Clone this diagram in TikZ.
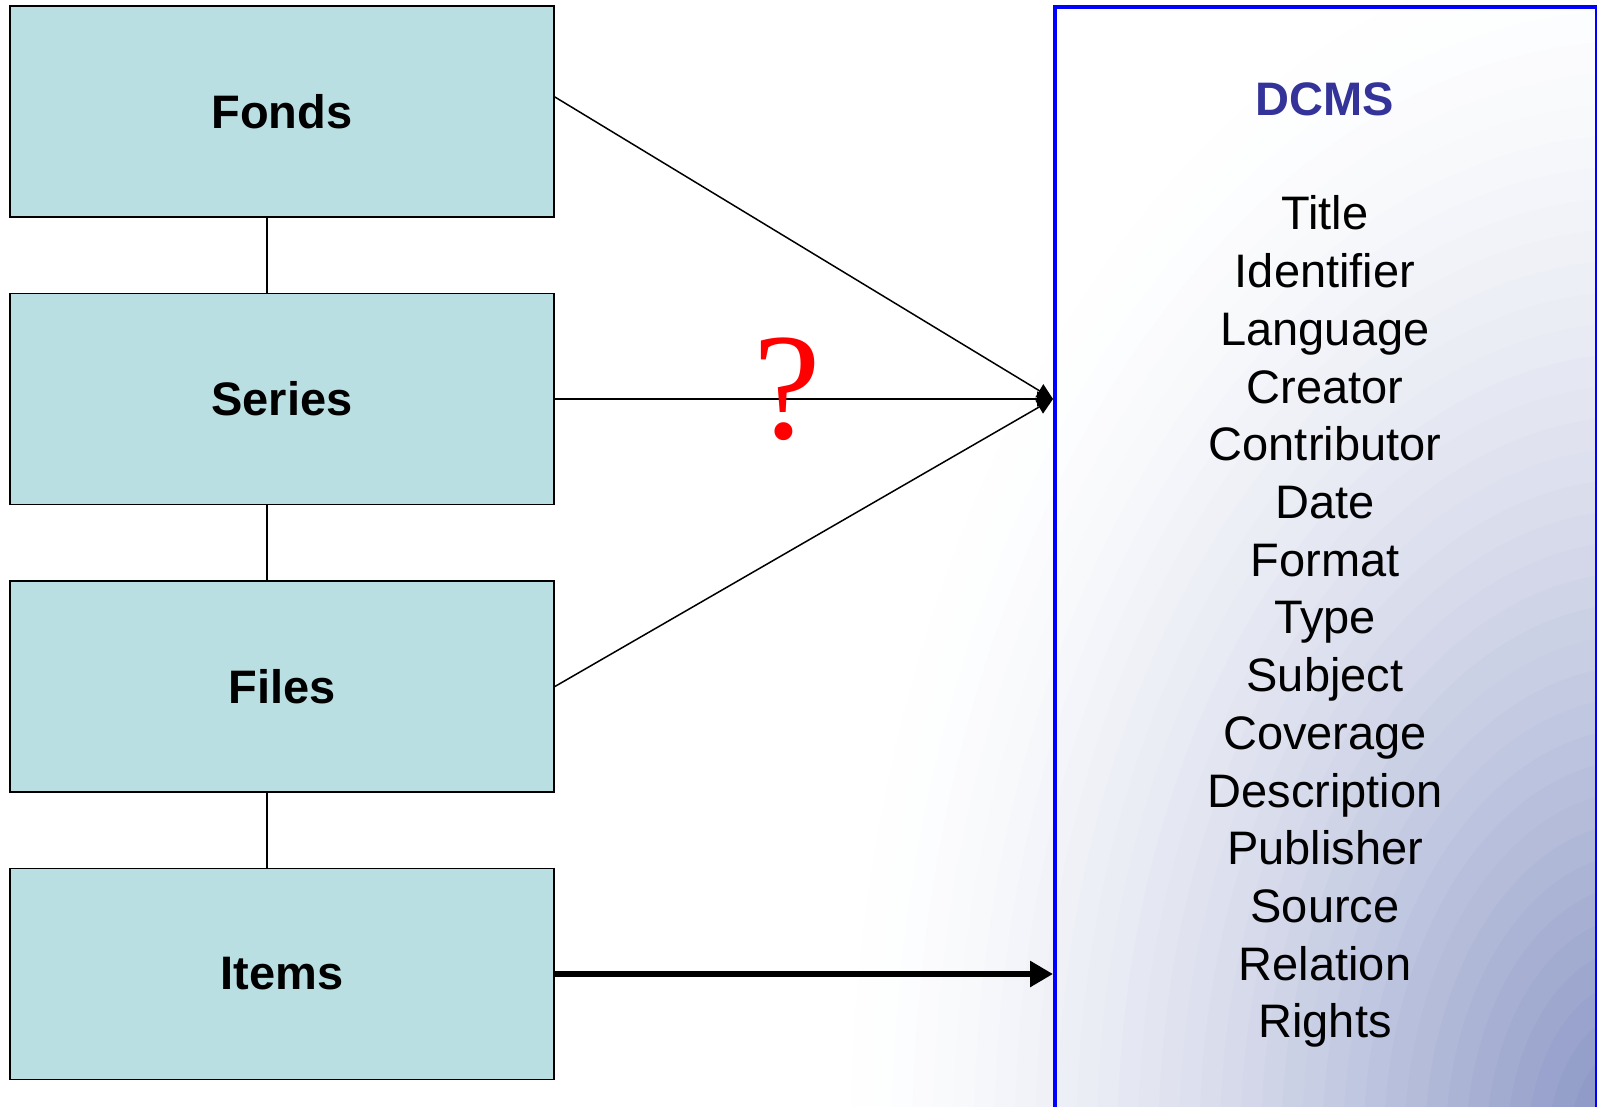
\documentclass[tikz,border=0pt]{standalone}
\usepackage{fontspec}
\setmainfont{Liberation Sans}
\newfontfamily\qfont{Liberation Serif}
\usetikzlibrary{arrows.meta}
\definecolor{boxfill}{HTML}{BADFE2}
\definecolor{dcmsblue}{HTML}{333399}
\definecolor{bgA}{HTML}{7E8BBF}
\begin{document}
\begin{tikzpicture}[x=1pt,y=-1pt,
  levelbox/.style={draw=black, line width=1.8pt, fill=boxfill, minimum width=544pt, minimum height=211pt, inner sep=0pt, font=\fontsize{47}{56}\selectfont\bfseries},
  thinarrow/.style={line width=1.5pt, -{Triangle[length=16pt,width=15pt]}},
  thickarrow/.style={line width=6pt, -{Triangle[length=23pt,width=25pt]}},
  link/.style={line width=1.5pt},
  fielditem/.style={font=\fontsize{47}{56}\selectfont, inner sep=0pt, anchor=base}]
\useasboundingbox (0,0) rectangle (1597,1107);
\clip (0,0) rectangle (1597,1107);
\fill[white] (0,0) rectangle (1597,1107);
\coordinate (bgc) at (1640,1150);
\foreach \k in {40,39,...,1} {
  \pgfmathsetmacro{\t}{(\k-0.5)/40}
  \pgfmathsetmacro{\p}{100*exp(1.6*ln(1-\t))}
  \fill[bgA!\p!white] (bgc) ellipse [x radius={820*\t}, y radius={1250*\t}];
}
\node[draw=blue, line width=4pt, minimum width=542pt, minimum height=1200pt, inner sep=0pt, anchor=north west] (dcms) at (1053,5) {};
\node[levelbox] (fonds) at (282,111.5) {Fonds};
\node[levelbox] (series) at (282,399) {Series};
\node[levelbox] (files) at (282,686.5) {Files};
\node[levelbox] (items) at (282,974) {Items};
\coordinate (cx) at (267,0);
\draw[link] (fonds.south -| cx) -- (series.north -| cx);
\draw[link] (series.south -| cx) -- (files.north -| cx);
\draw[link] (files.south -| cx) -- (items.north -| cx);
\coordinate (tip) at (dcms.west |- series.east);
\coordinate (fondsout) at (fonds.east |- 0,97);
\draw[thinarrow] (fondsout) -- (tip);
\draw[thinarrow] (series.east) -- (tip);
\draw[thinarrow] (files.east) -- (tip);
\draw[thickarrow] (items.east) -- (dcms.west |- items.east);
\node[text=red, font=\qfont\fontsize{152}{152}\selectfont, inner sep=0pt] (q) at (787,389) {?};
\node[text=dcmsblue, font=\fontsize{47}{56}\selectfont\bfseries, inner sep=0pt, anchor=base] (dcmstitle) at (1325,116) {DCMS};
\foreach \t [count=\i] in {Title,Identifier,Language,Creator,Contributor,Date,Format,Type,Subject,Coverage,Description,Publisher,Source,Relation,Rights}
  \node[fielditem] (f\i) at (1325,{230+57.7*(\i-1)}) {\t};
\end{tikzpicture}
\end{document}
